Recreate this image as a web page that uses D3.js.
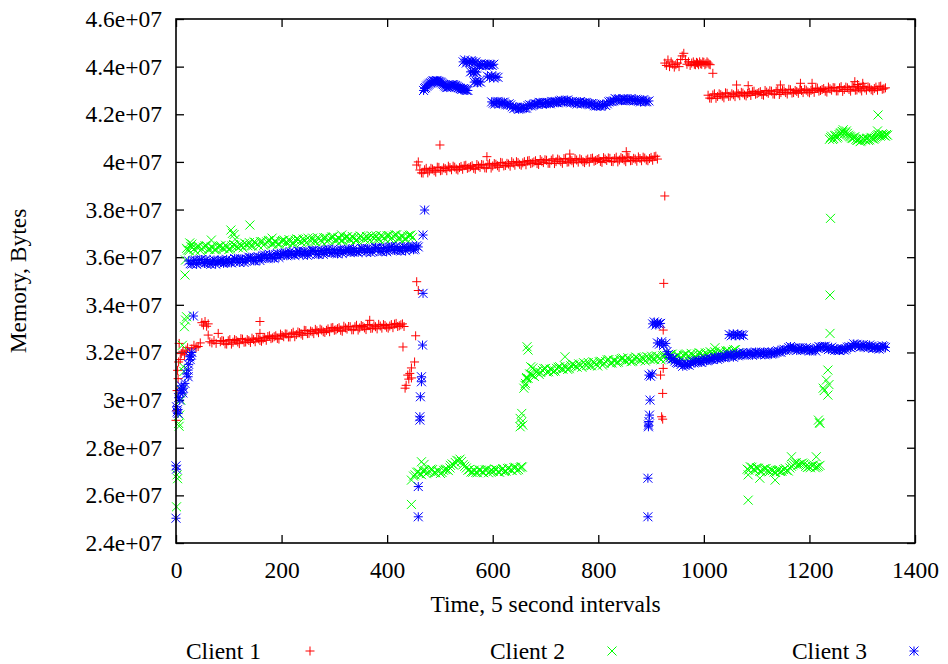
<!DOCTYPE html>
<html>
<head>
<meta charset="utf-8">
<script src="https://cdn.jsdelivr.net/npm/d3@7"></script>
<style>
  html, body { margin: 0; padding: 0; background: #fff; }
</style>
</head>
<body>
<svg id="chart" width="948" height="664"></svg>
<script>
// Axis ticks
const xTicks = [0, 200, 400, 600, 800, 1000, 1200, 1400];
const yTicks = [24e6, 26e6, 28e6, 30e6, 32e6, 34e6, 36e6, 38e6, 40e6, 42e6, 44e6, 46e6];
const seriesNames = ["Client 1", "Client 2", "Client 3"];
const seriesColors = ["#ff0000", "#00ff00", "#0000ff"];

// Memory samples: [time step (5 s intervals), memory in millions of bytes]

// ---- Client 1 ----
const client1Start = [[0,29.15],[1,29.55],[2,30.4],[3,31.25],[4,30.9],[5,31.6],[6,32.38],[8,31.7],[10,31.95],[13,32.05],[16,31.9],[19,32.1],[22,32.2],[26,32.0],[30,32.15],[34,32.3],[38,32.2],[42,32.25],[46,32.4],[49,33.25],[52,33.15],[55,33.3],[58,33.1],[61,33.2],[61,32.73],[64,32.45],[68,32.4],[72,32.5],[76,32.38],[80,32.8],[84,32.45],[87,32.5]];
const client1Low = [[90,32.48],[96,32.35],[102,32.54],[108,32.43],[114,32.50],[120,32.37],[126,32.56],[132,32.44],[138,32.50],[144,32.60],[150,32.45],[156,32.57],[162,32.47],[168,32.63],[174,32.67],[180,32.58],[186,32.66],[192,32.59],[198,32.77],[204,32.66],[210,32.77],[216,32.65],[222,32.85],[228,32.75],[234,32.83],[240,32.72],[246,32.92],[252,32.80],[258,32.87],[264,32.97],[270,32.83],[276,32.94],[282,32.84],[288,32.99],[294,33.03],[300,32.93],[306,33.00],[312,32.93],[318,33.10],[324,32.98],[330,33.08],[336,32.95],[342,33.14],[348,33.03],[354,33.09],[360,32.96],[366,33.15],[372,33.02],[378,33.08],[384,33.18],[390,33.02],[396,33.13],[402,33.02],[408,33.17],[414,33.19],[420,33.09],[426,33.16],[432,33.09],[159,33.3],[159,32.8],[367,33.35]];
const client1LowB = [[93,32.36],[99,32.49],[105,32.35],[111,32.54],[117,32.44],[123,32.58],[129,32.43],[135,32.54],[141,32.42],[147,32.54],[153,32.60],[159,32.50],[165,32.57],[171,32.51],[177,32.70],[183,32.61],[189,32.70],[195,32.56],[201,32.71],[207,32.78],[213,32.65],[219,32.79],[225,32.66],[231,32.86],[237,32.78],[243,32.93],[249,32.79],[255,32.90],[261,32.79],[267,32.91],[273,32.98],[279,32.87],[285,32.93],[291,32.87],[297,33.05],[303,32.95],[309,33.04],[315,32.89],[321,33.03],[327,33.09],[333,32.95],[339,33.08],[345,32.94],[351,33.13],[357,33.03],[363,33.17],[369,33.01],[375,33.12],[381,32.99],[387,33.11],[393,33.17],[399,33.06],[405,33.11],[411,33.04],[417,33.22],[423,33.12],[429,33.20]];
const client1Jump1 = [[430,32.23],[434,30.5],[436,30.62],[439,31.05],[441,30.88],[443,31.12],[446,31.35],[446,30.93],[452,31.6],[454,32.7],[456,34.97],[459,34.6],[456,39.87],[459,40.0]];
const client1Mid = [[462,39.66],[468,39.53],[474,39.73],[480,39.62],[486,39.70],[492,39.57],[498,39.77],[504,39.65],[510,39.72],[516,39.82],[522,39.67],[528,39.78],[534,39.66],[540,39.81],[546,39.84],[552,39.73],[558,39.80],[564,39.73],[570,39.89],[576,39.77],[582,39.87],[588,39.74],[594,39.94],[600,39.83],[606,39.90],[612,39.77],[618,39.96],[624,39.85],[630,39.91],[636,40.01],[642,39.86],[648,39.97],[654,39.86],[660,40.01],[666,40.04],[672,39.93],[678,40.00],[684,39.93],[690,40.10],[696,39.97],[702,40.07],[708,39.94],[714,40.13],[720,40.01],[726,40.08],[732,39.94],[738,40.13],[744,40.00],[750,40.05],[756,40.14],[762,39.99],[768,40.09],[774,39.97],[780,40.12],[786,40.14],[792,40.03],[798,40.10],[804,40.02],[810,40.18],[816,40.06],[822,40.15],[828,40.01],[834,40.20],[840,40.08],[846,40.14],[852,40.01],[858,40.19],[864,40.06],[870,40.12],[876,40.21],[882,40.05],[888,40.16],[894,40.05],[900,40.19],[906,40.22],[912,40.12],[500,40.71],[589,40.22],[746,40.33],[853,40.43]];
const client1MidB = [[465,39.54],[471,39.67],[477,39.54],[483,39.73],[489,39.63],[495,39.78],[501,39.63],[507,39.75],[513,39.63],[519,39.76],[525,39.82],[531,39.70],[537,39.76],[543,39.69],[549,39.86],[555,39.76],[561,39.84],[567,39.69],[573,39.83],[579,39.89],[585,39.75],[591,39.88],[597,39.74],[603,39.93],[609,39.84],[615,39.98],[621,39.83],[627,39.94],[633,39.82],[639,39.95],[645,40.01],[651,39.90],[657,39.96],[663,39.88],[669,40.06],[675,39.96],[681,40.05],[687,39.89],[693,40.03],[699,40.09],[705,39.94],[711,40.07],[717,39.93],[723,40.12],[729,40.01],[735,40.14],[741,39.99],[747,40.09],[753,39.96],[759,40.08],[765,40.13],[771,40.01],[777,40.07],[783,39.99],[789,40.16],[795,40.06],[801,40.14],[807,39.98],[813,40.12],[819,40.17],[825,40.02],[831,40.14],[837,40.00],[843,40.18],[849,40.08],[855,40.21],[861,40.05],[867,40.15],[873,40.03],[879,40.14],[885,40.20],[891,40.08],[897,40.14],[903,40.07],[909,40.24]];
const client1Jump2 = [[918,31.05],[920,29.3],[922,30.28],[922,29.2],[923,31.33],[923,32.94],[924,34.9],[926,38.57]];
const client1Peak = [[926,44.15],[929,44.05],[932,44.28],[935,44.0],[938,44.2],[941,44.1],[944,43.98],[947,44.08],[950,44.15],[953,44.0],[956,44.3],[959,44.45],[962,44.56],[965,44.3],[968,44.1],[971,44.2],[974,44.05],[977,44.15],[980,44.2],[982,44.1],[984,44.08],[986,44.18],[988,44.15],[990,44.08],[992,44.2],[994,44.12],[996,44.1],[998,44.2],[1000,44.18],[1002,44.08],[1004,44.12],[1006,44.2],[1008,44.15],[1010,44.1],[1012,44.08],[1017,43.72]];
const client1High = [[1008,42.80],[1014,42.67],[1020,42.86],[1026,42.75],[1032,42.82],[1038,42.69],[1044,42.88],[1050,42.76],[1056,42.82],[1062,42.93],[1068,42.78],[1074,42.89],[1080,42.77],[1086,42.92],[1092,42.95],[1098,42.84],[1104,42.91],[1110,42.83],[1116,43.00],[1122,42.88],[1128,42.97],[1134,42.84],[1140,43.03],[1146,42.91],[1152,42.98],[1158,42.85],[1164,43.03],[1170,42.91],[1176,42.96],[1182,43.06],[1188,42.91],[1194,43.01],[1200,42.90],[1206,43.05],[1212,43.08],[1218,42.97],[1224,43.04],[1230,42.97],[1236,43.14],[1242,43.01],[1248,43.11],[1254,42.98],[1260,43.16],[1266,43.04],[1272,43.11],[1278,42.97],[1284,43.15],[1290,43.02],[1296,43.07],[1302,43.17],[1308,43.01],[1314,43.11],[1320,42.99],[1326,43.14],[1332,43.16],[1338,43.05],[1344,43.11],[1062,43.23],[1084,43.2],[1145,43.23],[1183,43.3],[1205,43.3],[1286,43.37],[1301,43.3],[1291,43.25]];
const client1HighB = [[1011,42.68],[1017,42.81],[1023,42.67],[1029,42.86],[1035,42.76],[1041,42.90],[1047,42.75],[1053,42.86],[1059,42.74],[1065,42.86],[1071,42.92],[1077,42.81],[1083,42.87],[1089,42.79],[1095,42.97],[1101,42.87],[1107,42.95],[1113,42.80],[1119,42.93],[1125,42.99],[1131,42.85],[1137,42.97],[1143,42.83],[1149,43.02],[1155,42.91],[1161,43.05],[1167,42.89],[1173,43.00],[1179,42.88],[1185,43.00],[1191,43.05],[1197,42.94],[1203,43.00],[1209,42.92],[1215,43.10],[1221,43.00],[1227,43.08],[1233,42.93],[1239,43.07],[1245,43.12],[1251,42.98],[1257,43.11],[1263,42.96],[1269,43.14],[1275,43.04],[1281,43.17],[1287,43.01],[1293,43.11],[1299,42.98],[1305,43.10],[1311,43.15],[1317,43.03],[1323,43.08],[1329,43.01],[1335,43.18],[1341,43.07]];

// ---- Client 2 ----
const client2Start = [[1,25.52],[2,26.86],[3,26.7],[5,29.02],[6,28.9],[7,29.37],[9,30.0],[11,30.4],[12,32.3],[14,31.4],[15,31.2],[16,33.08],[18,33.36],[20,33.5],[17,35.25],[18,35.88],[20,36.37]];
const client2Upper = [[22,36.30],[28,36.45],[34,36.34],[40,36.44],[46,36.28],[52,36.42],[58,36.48],[64,36.33],[70,36.40],[76,36.32],[82,36.46],[88,36.38],[94,36.50],[100,36.32],[106,36.47],[112,36.50],[118,36.40],[124,36.48],[130,36.59],[136,36.48],[142,36.48],[148,36.64],[154,36.54],[160,36.65],[166,36.50],[172,36.64],[178,36.71],[184,36.56],[190,36.63],[196,36.55],[202,36.70],[208,36.62],[214,36.74],[220,36.57],[226,36.71],[232,36.74],[238,36.62],[244,36.70],[250,36.80],[256,36.67],[262,36.67],[268,36.82],[274,36.71],[280,36.81],[286,36.66],[292,36.79],[298,36.86],[304,36.71],[310,36.78],[316,36.70],[322,36.84],[328,36.76],[334,36.87],[340,36.70],[346,36.83],[352,36.85],[358,36.74],[364,36.81],[370,36.90],[376,36.78],[382,36.77],[388,36.91],[394,36.81],[400,36.90],[406,36.75],[412,36.88],[418,36.94],[424,36.79],[430,36.86],[436,36.77],[442,36.92],[448,36.83],[26,36.6],[30,36.55],[67,36.72],[104,37.14],[107,37.0],[110,36.95],[112,36.75],[140,37.35],[182,36.8],[314,36.93]];
const client2UpperB = [[25,36.28],[31,36.41],[37,36.26],[43,36.45],[49,36.34],[55,36.48],[61,36.33],[67,36.43],[73,36.31],[79,36.42],[85,36.48],[91,36.36],[97,36.42],[103,36.35],[109,36.53],[115,36.44],[121,36.54],[127,36.39],[133,36.54],[139,36.61],[145,36.47],[151,36.61],[157,36.47],[163,36.66],[169,36.56],[175,36.70],[181,36.55],[187,36.66],[193,36.54],[199,36.66],[205,36.72],[211,36.61],[217,36.66],[223,36.59],[229,36.77],[235,36.67],[241,36.76],[247,36.60],[253,36.74],[259,36.80],[265,36.65],[271,36.78],[277,36.63],[283,36.82],[289,36.72],[295,36.85],[301,36.70],[307,36.81],[313,36.68],[319,36.80],[325,36.86],[331,36.74],[337,36.79],[343,36.72],[349,36.89],[355,36.79],[361,36.87],[367,36.71],[373,36.85],[379,36.90],[385,36.75],[391,36.88],[397,36.73],[403,36.91],[409,36.81],[415,36.94],[421,36.79],[427,36.89],[433,36.76],[439,36.88],[445,36.93]];
const client2Drop1 = [[446,25.62],[446,26.64],[465,27.41],[470,27.3]];
const client2Low = [[450,26.81],[456,26.97],[462,26.91],[468,27.02],[474,26.91],[480,27.02],[486,27.08],[492,26.95],[498,27.01],[504,26.96],[510,27.09],[516,27.04],[520,27.26],[526,27.27],[532,27.47],[538,27.52],[544,27.29],[550,27.15],[556,27.09],[562,26.97],[568,26.96],[574,27.07],[580,26.98],[586,27.07],[592,26.95],[598,27.05],[604,27.11],[610,26.99],[616,27.06],[622,27.00],[628,27.13],[634,27.07],[640,27.17],[646,27.04],[652,27.16],[656,27.19]];
const client2LowB = [[453,26.86],[459,26.98],[465,26.87],[471,27.05],[477,26.97],[483,27.10],[489,26.95],[495,27.04],[501,26.92],[507,27.05],[513,27.10],[519,27.15],[523,27.32],[529,27.38],[535,27.45],[541,27.42],[547,27.22],[553,27.05],[559,26.98],[565,27.06],[571,26.95],[577,27.06],[583,26.95],[589,27.09],[595,27.03],[601,27.0],[607,27.08],[613,26.97],[619,27.12],[625,27.02],[631,27.14],[637,27.04],[643,27.18],[649,27.08],[654,27.2]];
const client2Rise1 = [[652,29.23],[652,28.88],[654,29.05],[655,29.44],[657,28.95],[659,30.5],[661,30.62],[662,30.7],[664,30.95],[665,32.24],[667,32.1]];
const client2Mid = [[664,30.90],[670,31.10],[676,31.04],[682,31.19],[688,31.08],[694,31.25],[700,31.33],[706,31.19],[712,31.28],[718,31.22],[724,31.38],[730,31.31],[736,31.44],[742,31.29],[748,31.44],[754,31.48],[760,31.38],[766,31.47],[772,31.57],[778,31.45],[784,31.45],[790,31.61],[796,31.51],[802,31.61],[808,31.47],[814,31.62],[820,31.70],[826,31.56],[832,31.66],[838,31.59],[844,31.74],[850,31.66],[856,31.78],[862,31.61],[868,31.74],[874,31.77],[880,31.66],[886,31.73],[892,31.83],[898,31.71],[904,31.71],[910,31.86],[916,31.76],[922,31.86],[928,31.72],[934,31.86],[940,31.93],[946,31.78],[952,31.86],[958,31.77],[964,31.92],[970,31.84],[976,31.96],[982,31.79],[988,31.93],[994,31.96],[1000,31.85],[1006,31.93],[1012,32.03],[1018,31.91],[1024,31.91],[1030,32.06],[1036,31.96],[1042,32.06],[1048,31.91],[1054,32.05],[1060,32.12],[1066,31.97],[672,31.4],[676,31.35],[737,31.82],[1021,32.2]];
const client2MidB = [[667,30.91],[673,31.08],[679,30.99],[685,31.22],[691,31.16],[697,31.32],[703,31.18],[709,31.30],[715,31.20],[721,31.33],[727,31.40],[733,31.30],[739,31.37],[745,31.32],[751,31.51],[757,31.42],[763,31.52],[769,31.38],[775,31.52],[781,31.58],[787,31.44],[793,31.57],[799,31.43],[805,31.63],[811,31.54],[817,31.69],[823,31.55],[829,31.67],[835,31.57],[841,31.70],[847,31.76],[853,31.64],[859,31.70],[865,31.63],[871,31.81],[877,31.70],[883,31.79],[889,31.64],[895,31.78],[901,31.84],[907,31.70],[913,31.83],[919,31.69],[925,31.88],[931,31.78],[937,31.92],[943,31.77],[949,31.88],[955,31.76],[961,31.88],[967,31.94],[973,31.82],[979,31.88],[985,31.81],[991,31.99],[997,31.89],[1003,31.98],[1009,31.83],[1015,31.97],[1021,32.03],[1027,31.89],[1033,32.02],[1039,31.88],[1045,32.07],[1051,31.97],[1057,32.11],[1063,31.96]];
const client2Low2 = [[1082,27.10],[1088,27.20],[1094,27.09],[1100,27.16],[1106,27.01],[1112,27.09],[1118,27.13],[1124,26.99],[1130,27.04],[1136,26.96],[1142,27.06],[1148,27.01],[1154,27.13],[1160,27.02],[1166,27.22],[1172,27.34],[1178,27.27],[1184,27.33],[1190,27.32],[1196,27.17],[1202,27.16],[1208,27.28],[1214,27.19],[1220,27.26],[1084,25.8],[1084,26.86],[1106,26.72],[1135,26.64],[1166,27.62],[1213,27.62]];
const client2Low2B = [[1085,27.06],[1091,27.18],[1097,27.05],[1103,27.14],[1109,27.0],[1115,27.12],[1121,27.04],[1127,27.08],[1133,26.98],[1139,27.05],[1145,27.0],[1151,27.08],[1157,27.05],[1163,27.15],[1169,27.28],[1175,27.38],[1181,27.3],[1187,27.36],[1193,27.22],[1199,27.2],[1205,27.24],[1211,27.16],[1217,27.22]];
const client2Rise2 = [[1217,29.16],[1219,29.05],[1220,29.02],[1226,30.5],[1228,30.4],[1232,30.84],[1235,31.26],[1235,30.21],[1237,30.65],[1239,32.8],[1239,34.41],[1240,37.63]];
const client2High = [[1238,40.95],[1242,41.08],[1246,40.98],[1250,41.12],[1254,41.05],[1258,41.2],[1262,41.28],[1266,41.18],[1270,41.3],[1274,41.12],[1278,41.05],[1282,40.98],[1286,41.06],[1290,40.9],[1294,40.96],[1298,40.88],[1302,40.97],[1306,40.91],[1310,41.0],[1314,40.93],[1318,41.03],[1322,40.95],[1326,41.05],[1330,41.15],[1334,41.08],[1338,41.18],[1342,41.1],[1346,41.15],[1330,41.97],[1264,41.35],[1329,41.3]];
const client2HighB = [[1240,41.02],[1244,40.94],[1248,41.1],[1252,41.0],[1256,41.15],[1260,41.22],[1264,41.25],[1268,41.22],[1272,41.2],[1276,41.08],[1280,41.0],[1284,41.02],[1288,40.95],[1292,40.92],[1296,40.85],[1300,40.93],[1304,40.95],[1308,40.98],[1312,40.9],[1316,41.0],[1320,40.98],[1324,41.0],[1328,41.1],[1332,41.12],[1336,41.12],[1340,41.14],[1344,41.08],[1348,41.12]];

// ---- Client 3 ----
const client3Start = [[0,25.04],[0,27.24],[1,27.1],[1,29.72],[2,29.5],[3,29.6],[4,29.44],[5,30.1],[7,30.0],[8,30.3],[10,30.6],[11,30.42],[13,30.3],[14,30.5],[17,30.7],[20,31.1],[23,30.98],[23,31.26],[24,31.5],[26,31.82],[27,31.7],[29,31.89],[30,32.0],[33,33.53]];
const client3Upper = [[24,35.84],[30,35.71],[36,35.87],[42,35.77],[48,35.90],[54,35.74],[60,35.82],[66,35.70],[72,35.88],[78,35.79],[84,35.85],[90,35.74],[96,35.91],[102,35.79],[108,35.84],[114,35.91],[120,35.78],[126,35.91],[132,35.84],[138,36.00],[144,35.95],[150,35.84],[156,36.02],[162,35.94],[168,36.09],[174,35.95],[180,36.05],[186,35.95],[192,36.15],[198,36.08],[204,36.16],[210,36.06],[216,36.24],[222,36.12],[228,36.16],[234,36.23],[240,36.10],[246,36.21],[252,36.14],[258,36.29],[264,36.24],[270,36.12],[276,36.28],[282,36.19],[288,36.33],[294,36.17],[300,36.26],[306,36.14],[312,36.33],[318,36.24],[324,36.31],[330,36.20],[336,36.36],[342,36.24],[348,36.28],[354,36.35],[360,36.21],[366,36.33],[372,36.25],[378,36.41],[384,36.35],[390,36.23],[396,36.40],[402,36.30],[408,36.44],[414,36.29],[420,36.37],[426,36.26],[432,36.44],[438,36.36],[444,36.42],[450,36.31],[456,36.48]];
const client3UpperB = [[27,35.73],[33,35.85],[39,35.70],[45,35.88],[51,35.77],[57,35.90],[63,35.74],[69,35.84],[75,35.71],[81,35.82],[87,35.88],[93,35.77],[99,35.83],[105,35.76],[111,35.94],[117,35.84],[123,35.93],[129,35.78],[135,35.92],[141,35.98],[147,35.85],[153,35.99],[159,35.86],[165,36.06],[171,35.97],[177,36.12],[183,35.98],[189,36.10],[195,35.99],[201,36.12],[207,36.19],[213,36.09],[219,36.15],[225,36.08],[231,36.26],[237,36.15],[243,36.24],[249,36.08],[255,36.22],[261,36.28],[267,36.13],[273,36.26],[279,36.12],[285,36.30],[291,36.20],[297,36.33],[303,36.18],[309,36.29],[315,36.16],[321,36.28],[327,36.33],[333,36.22],[339,36.27],[345,36.20],[351,36.37],[357,36.27],[363,36.36],[369,36.20],[375,36.34],[381,36.39],[387,36.25],[393,36.37],[399,36.23],[405,36.42],[411,36.31],[417,36.45],[423,36.29],[429,36.40],[435,36.27],[441,36.39],[447,36.45],[453,36.34],[459,36.43]];
const client3Jump1 = [[459,25.1],[459,26.37],[462,29.16],[462,29.3],[463,30.14],[465,30.77],[465,30.98],[467,32.31],[468,34.48],[468,36.93],[471,37.98]];
const client3Arc = [[469,43.0],[471,43.08],[473,43.12],[475,43.18],[477,43.22],[479,43.26],[481,43.3],[483,43.32],[485,43.36],[487,43.4],[489,43.4],[491,43.38],[493,43.42],[495,43.4],[497,43.38],[499,43.36],[501,43.35],[503,43.32],[505,43.28],[507,43.25],[509,43.2],[511,43.16],[513,43.12],[515,43.14],[517,43.15],[519,43.2],[521,43.22],[523,43.24],[525,43.25],[527,43.22],[529,43.2],[531,43.18],[533,43.15],[535,43.12],[537,43.1],[539,43.08],[541,43.05],[543,43.06],[545,43.08],[547,43.05],[549,43.02],[551,43.0],[553,43.0]];
const client3Spikes = [[544,44.2],[547,44.28],[550,44.15],[553,44.22],[556,44.18],[559,44.25],[562,44.2],[565,44.15],[568,44.2],[572,44.08],[575,44.05],[578,44.12],[581,44.08],[584,44.1],[587,44.03],[590,44.1],[593,44.06],[596,44.08],[599,44.05],[602,44.1],[558,43.78],[561,43.82],[564,43.75],[567,43.8],[570,43.77],[565,43.35],[568,43.4],[571,43.32],[574,43.38],[577,43.35],[590,43.6],[594,43.55],[598,43.62],[602,43.52],[606,43.58],[610,43.55]];
const client3Plateau = [[598,42.52],[604,42.43],[610,42.54],[616,42.45],[622,42.51],[628,42.39],[634,42.39],[640,42.24],[646,42.30],[652,42.23],[658,42.29],[664,42.26],[670,42.40],[676,42.38],[682,42.43],[688,42.50],[694,42.42],[700,42.49],[706,42.45],[712,42.54],[718,42.52],[724,42.48],[730,42.59],[736,42.53],[742,42.60],[748,42.48],[754,42.51],[760,42.43],[766,42.53],[772,42.46],[778,42.49],[784,42.40],[790,42.45],[796,42.35],[802,42.35],[808,42.41],[814,42.37],[820,42.52],[826,42.53],[832,42.66],[838,42.63],[844,42.57],[850,42.65],[856,42.58],[862,42.66],[868,42.56],[874,42.61],[880,42.52],[886,42.61],[892,42.53],[896,42.56]];
const client3PlateauB = [[601,42.47],[607,42.52],[613,42.44],[619,42.50],[625,42.40],[631,42.44],[637,42.31],[643,42.30],[649,42.21],[655,42.28],[661,42.25],[667,42.36],[673,42.35],[679,42.44],[685,42.42],[691,42.49],[697,42.45],[703,42.50],[709,42.44],[715,42.52],[721,42.49],[727,42.56],[733,42.52],[739,42.58],[745,42.51],[751,42.54],[757,42.47],[763,42.51],[769,42.45],[775,42.50],[781,42.42],[787,42.45],[793,42.36],[799,42.38],[805,42.33],[811,42.42],[817,42.44],[823,42.55],[829,42.56],[835,42.62],[841,42.58],[847,42.64],[853,42.58],[859,42.63],[865,42.57],[871,42.63],[877,42.56],[883,42.59],[889,42.52]];
const client3Jump2 = [[894,25.1],[894,26.72],[895,28.88],[895,28.95],[896,29.1],[897,29.37],[898,30.0],[896,31.05],[899,31.0],[902,31.1],[903,33.2],[906,33.28],[909,33.15],[912,33.25],[915,33.2],[918,33.22],[912,32.4],[916,32.35],[920,32.45],[924,32.3],[928,32.38]];
const client3Late = [[930,32.03],[936,31.78],[942,31.74],[948,31.58],[954,31.60],[960,31.42],[966,31.52],[972,31.46],[978,31.63],[984,31.59],[990,31.66],[996,31.58],[1002,31.74],[1008,31.66],[1014,31.72],[1020,31.79],[1026,31.71],[1032,31.82],[1038,31.78],[1044,31.92],[1050,31.89],[1056,31.80],[1062,31.95],[1068,31.89],[1074,32.00],[1080,31.89],[1086,31.98],[1092,31.88],[1098,32.02],[1104,31.95],[1110,32.00],[1116,31.90],[1122,32.03],[1128,31.93],[1134,31.97],[1140,32.07],[1146,32.01],[1152,32.13],[1158,32.11],[1164,32.25],[1170,32.19],[1176,32.08],[1182,32.20],[1188,32.11],[1194,32.20],[1200,32.06],[1206,32.12],[1212,32.06],[1218,32.25],[1224,32.22],[1230,32.26],[1236,32.12],[1242,32.22],[1248,32.09],[1254,32.10],[1260,32.16],[1266,32.10],[1272,32.22],[1278,32.20],[1284,32.36],[1290,32.34],[1296,32.22],[1302,32.33],[1308,32.23],[1314,32.31],[1320,32.17],[1326,32.24],[1332,32.14],[1338,32.28],[1344,32.21]];
const client3LateB = [[933,31.92],[939,31.72],[945,31.64],[951,31.55],[957,31.5],[963,31.48],[969,31.5],[975,31.55],[981,31.56],[987,31.64],[993,31.6],[999,31.68],[1005,31.65],[1011,31.73],[1017,31.7],[1023,31.78],[1029,31.76],[1035,31.84],[1041,31.8],[1047,31.88],[1053,31.83],[1059,31.9],[1065,31.86],[1071,31.95],[1077,31.93],[1083,31.92],[1089,31.99],[1095,31.92],[1101,31.99],[1107,31.92],[1113,32.0],[1119,31.93],[1125,31.99],[1131,31.95],[1137,32.03],[1143,32.02],[1149,32.1],[1155,32.08],[1161,32.2],[1167,32.15],[1173,32.18],[1179,32.12],[1185,32.17],[1191,32.1],[1197,32.15],[1203,32.08],[1209,32.14],[1215,32.18],[1221,32.2],[1227,32.25],[1233,32.18],[1239,32.17],[1245,32.14],[1251,32.12],[1257,32.08],[1263,32.15],[1269,32.14],[1275,32.24],[1281,32.26],[1287,32.3],[1293,32.28],[1299,32.26],[1305,32.28],[1311,32.2],[1317,32.26],[1323,32.2],[1329,32.2],[1335,32.18],[1341,32.25]];
const client3Blip = [[1048,32.75],[1052,32.7],[1056,32.78],[1060,32.72],[1064,32.76],[1068,32.7],[1072,32.75],[1075,32.72]];

const client1 = [].concat(client1Start, client1Low, client1LowB, client1Jump1, client1Mid, client1MidB, client1Jump2, client1Peak, client1High, client1HighB);
const client2 = [].concat(client2Start, client2Upper, client2UpperB, client2Drop1, client2Low, client2LowB, client2Rise1, client2Mid, client2MidB, client2Low2, client2Low2B, client2Rise2, client2High, client2HighB);
const client3 = [].concat(client3Start, client3Upper, client3UpperB, client3Jump1, client3Arc, client3Spikes, client3Plateau, client3PlateauB, client3Jump2, client3Late, client3LateB, client3Blip);

const MILLION = 1e6;

// ---- Layout ----
const svg = d3.select("#chart");
const W = 948, H = 664;
const plot = { left: 176, right: 915, top: 19, bottom: 543 };
const FONT_FAMILY = "'Liberation Serif', 'Times New Roman', Times, serif";
const FONT = 23.5;
const TICK = 8;
const MARK = 4.5;

svg.append("rect").attr("width", W).attr("height", H).attr("fill", "#fff");

const x = d3.scaleLinear().domain([0, 1400]).range([plot.left, plot.right]);
const y = d3.scaleLinear().domain([24e6, 46e6]).range([plot.bottom, plot.top]);

const fmtY = v => `${+(v / 1e7).toFixed(1)}e+07`;

function styleAxis(g) {
  g.attr("font-family", null).attr("font-size", null);
  g.select(".domain").remove();
  g.selectAll(".tick line").attr("stroke", "#000").attr("stroke-width", 1.3);
  g.selectAll(".tick text")
    .style("font-family", FONT_FAMILY)
    .style("font-size", FONT + "px")
    .attr("fill", "#000");
}

svg.append("g").attr("transform", `translate(0,${plot.bottom})`)
  .call(d3.axisBottom(x).tickValues(xTicks).tickSize(-TICK).tickPadding(18).tickFormat(d3.format("d")))
  .call(styleAxis);
svg.append("g").attr("transform", `translate(0,${plot.top})`)
  .call(d3.axisTop(x).tickValues(xTicks).tickSize(-TICK).tickFormat(""))
  .call(styleAxis);
svg.append("g").attr("transform", `translate(${plot.left},0)`)
  .call(d3.axisLeft(y).tickValues(yTicks).tickSize(-TICK).tickPadding(14).tickFormat(fmtY))
  .call(styleAxis);
svg.append("g").attr("transform", `translate(${plot.right},0)`)
  .call(d3.axisRight(y).tickValues(yTicks).tickSize(-TICK).tickFormat(""))
  .call(styleAxis);

// ---- Point symbols ----
const symbolPaths = [
  (px, py) => `M${px - MARK},${py}H${px + MARK}M${px},${py - MARK}V${py + MARK}`,
  (px, py) => `M${px - MARK},${py - MARK}L${px + MARK},${py + MARK}M${px - MARK},${py + MARK}L${px + MARK},${py - MARK}`,
  (px, py) => `M${px - MARK},${py}H${px + MARK}M${px},${py - MARK}V${py + MARK}` +
              `M${px - MARK},${py - MARK}L${px + MARK},${py + MARK}M${px - MARK},${py + MARK}L${px + MARK},${py - MARK}`
];

const allSeries = [client1, client2, client3];
allSeries.forEach((data, i) => {
  svg.append("g").attr("class", "series")
    .selectAll("path").data(data).join("path")
    .attr("d", d => symbolPaths[i](x(d[0]), y(d[1] * MILLION)))
    .attr("fill", "none")
    .attr("stroke", seriesColors[i])
    .attr("stroke-width", 1);
});

// ---- Frame ----
svg.append("rect")
  .attr("x", plot.left).attr("y", plot.top)
  .attr("width", plot.right - plot.left).attr("height", plot.bottom - plot.top)
  .attr("fill", "none").attr("stroke", "#000").attr("stroke-width", 1.6);

// ---- Text helper ----
function label(sel) {
  return sel.style("font-family", FONT_FAMILY).style("font-size", FONT + "px").attr("fill", "#000");
}

// ---- Axis titles ----
svg.append("text")
  .attr("x", (plot.left + plot.right) / 2).attr("y", 612)
  .attr("text-anchor", "middle")
  .call(label)
  .text("Time, 5 second intervals");
svg.append("text")
  .attr("transform", `translate(26,${(plot.top + plot.bottom) / 2}) rotate(-90)`)
  .attr("text-anchor", "middle")
  .call(label)
  .text("Memory, Bytes");

// ---- Legend ----
const legendTextRight = [261, 565, 867];
const legendMarkX = [310, 612, 914];
const legendY = 651;
seriesNames.forEach((name, i) => {
  svg.append("text")
    .attr("x", legendTextRight[i]).attr("y", legendY + 8)
    .attr("text-anchor", "end")
    .call(label)
    .text(name);
  svg.append("path")
    .attr("d", symbolPaths[i](legendMarkX[i], legendY))
    .attr("fill", "none").attr("stroke", seriesColors[i]).attr("stroke-width", 1);
});
</script>
</body>
</html>
